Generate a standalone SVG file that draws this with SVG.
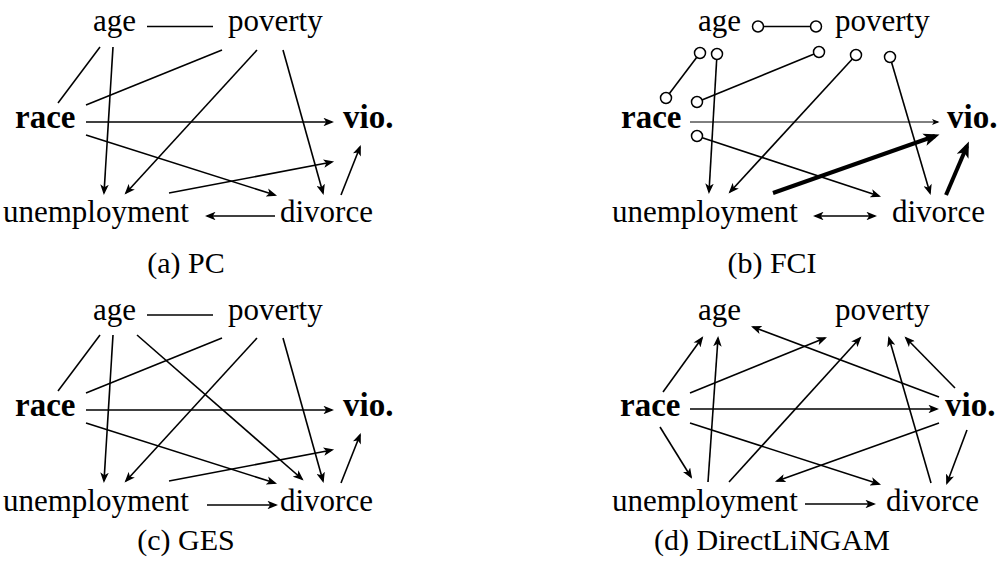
<svg xmlns="http://www.w3.org/2000/svg" width="1000" height="574" viewBox="0 0 1000 574">
<style>
.t{font-family:"Liberation Serif","DejaVu Serif",serif;font-size:31px;fill:#000}
.b{font-family:"Liberation Serif","DejaVu Serif",serif;font-size:33px;font-weight:bold;fill:#000}
.cap{font-family:"Liberation Serif","DejaVu Serif",serif;font-size:30px;fill:#000;text-anchor:middle}
.e{stroke:#000;stroke-width:1.6;fill:none}
.a{marker-end:url(#ah)}
.thin{stroke:#000;stroke-width:1;fill:none;marker-end:url(#ahs)}
.thick{stroke:#000;stroke-width:4;fill:none;marker-end:url(#ahb)}
.o{fill:#fff;stroke:#000;stroke-width:1.5}
</style>
<defs>
<marker id="ah" viewBox="0 0 10 8" refX="8" refY="4" markerWidth="11" markerHeight="8.5" markerUnits="userSpaceOnUse" orient="auto-start-reverse"><path d="M0,0 L10,4 L0,8 L2.5,4 z" fill="#000"/></marker>
<marker id="ahs" viewBox="0 0 10 8" refX="8" refY="4" markerWidth="8" markerHeight="6" markerUnits="userSpaceOnUse" orient="auto"><path d="M0,0 L10,4 L0,8 L2.5,4 z" fill="#000"/></marker>
<marker id="ahb" viewBox="0 0 10 8" refX="7" refY="4" markerWidth="16" markerHeight="13" markerUnits="userSpaceOnUse" orient="auto"><path d="M0,0 L10,4 L0,8 L2.5,4 z" fill="#000"/></marker>
</defs>

<!-- (a) PC -->
<g id="pc">
<g id="pc-age"><text class="t" x="93" y="31">age</text></g>
<g id="pc-poverty"><text class="t" x="228" y="31">poverty</text></g>
<g id="pc-race"><text class="b" x="15" y="128">race</text></g>
<g id="pc-vio"><text class="b" x="343" y="128">vio.</text></g>
<g id="pc-unemployment"><text class="t" x="3" y="222">unemployment</text></g>
<g id="pc-divorce"><text class="t" x="280" y="222">divorce</text></g>
<g id="pc-edges">
<line class="e" x1="147" y1="26.5" x2="213" y2="26.5"/>
<line class="e" x1="100" y1="47" x2="58" y2="103"/>
<line class="e a" x1="113" y1="47" x2="104" y2="193"/>
<line class="e" x1="222" y1="50" x2="86" y2="105"/>
<line class="e a" x1="257" y1="50" x2="126" y2="193"/>
<line class="e a" x1="283" y1="50" x2="323" y2="193"/>
<line class="e a" x1="86" y1="122" x2="332" y2="122"/>
<line class="e a" x1="86" y1="135" x2="275" y2="195"/>
<line class="e a" x1="169" y1="193" x2="332" y2="162"/>
<line class="e a" x1="341" y1="195" x2="360" y2="147"/>
<line class="e a" x1="275" y1="216" x2="207" y2="216"/>
</g>
<text class="cap" x="186" y="273">(a) PC</text>
</g>

<!-- (b) FCI -->
<g id="fci">
<g id="fci-age"><text class="t" x="698" y="31">age</text></g>
<g id="fci-poverty"><text class="t" x="835" y="31">poverty</text></g>
<g id="fci-race"><text class="b" x="621" y="128">race</text></g>
<g id="fci-vio"><text class="b" x="947" y="128">vio.</text></g>
<g id="fci-unemployment"><text class="t" x="612" y="222">unemployment</text></g>
<g id="fci-divorce"><text class="t" x="892" y="222">divorce</text></g>
<g id="fci-edges">
<line class="e" x1="758" y1="26.5" x2="816" y2="26.5"/>
<line class="e" x1="700" y1="53" x2="666" y2="98"/>
<line class="e a" x1="717" y1="54" x2="709" y2="192"/>
<line class="e" x1="819" y1="52" x2="697" y2="102"/>
<line class="e a" x1="856" y1="55" x2="730" y2="192"/>
<line class="e a" x1="890" y1="57" x2="930" y2="193"/>
<line class="thin" x1="690" y1="122" x2="938" y2="122"/>
<line class="e a" x1="697" y1="136" x2="879" y2="196"/>
<line class="thick" x1="773" y1="193" x2="935" y2="136"/>
<line class="thick" x1="946" y1="195" x2="967" y2="146"/>
<line class="e" style="marker-start:url(#ah);marker-end:url(#ah)" x1="815" y1="216" x2="875" y2="216"/>
<circle class="o" cx="758" cy="26.5" r="5.5"/>
<circle class="o" cx="816" cy="26.5" r="5.5"/>
<circle class="o" cx="700" cy="53" r="5.5"/>
<circle class="o" cx="666" cy="98" r="5.5"/>
<circle class="o" cx="717" cy="54" r="5.5"/>
<circle class="o" cx="819" cy="52" r="5.5"/>
<circle class="o" cx="697" cy="102" r="5.5"/>
<circle class="o" cx="856" cy="55" r="5.5"/>
<circle class="o" cx="890" cy="57" r="5.5"/>
<circle class="o" cx="697" cy="136" r="5.5"/>
</g>
<text class="cap" x="772" y="273">(b) FCI</text>
</g>

<!-- (c) GES -->
<g id="ges">
<g id="ges-age"><text class="t" x="93" y="320">age</text></g>
<g id="ges-poverty"><text class="t" x="228" y="320">poverty</text></g>
<g id="ges-race"><text class="b" x="15" y="416">race</text></g>
<g id="ges-vio"><text class="b" x="343" y="416">vio.</text></g>
<g id="ges-unemployment"><text class="t" x="3" y="511">unemployment</text></g>
<g id="ges-divorce"><text class="t" x="280" y="511">divorce</text></g>
<g id="ges-edges">
<line class="e" x1="147" y1="315" x2="213" y2="315"/>
<line class="e" x1="100" y1="335" x2="58" y2="391"/>
<line class="e a" x1="113" y1="335" x2="104" y2="481"/>
<line class="e a" x1="137" y1="335" x2="302" y2="479"/>
<line class="e" x1="222" y1="338" x2="86" y2="393"/>
<line class="e a" x1="257" y1="338" x2="126" y2="481"/>
<line class="e a" x1="283" y1="338" x2="323" y2="481"/>
<line class="e a" x1="86" y1="410" x2="332" y2="410"/>
<line class="e a" x1="86" y1="423" x2="275" y2="483"/>
<line class="e a" x1="169" y1="481" x2="332" y2="450"/>
<line class="e a" x1="341" y1="483" x2="360" y2="435"/>
<line class="e a" x1="207" y1="505" x2="276" y2="505"/>
</g>
<text class="cap" x="186" y="550">(c) GES</text>
</g>

<!-- (d) DirectLiNGAM -->
<g id="lingam">
<g id="lingam-age"><text class="t" x="698" y="320">age</text></g>
<g id="lingam-poverty"><text class="t" x="835" y="320">poverty</text></g>
<g id="lingam-race"><text class="b" x="620" y="416">race</text></g>
<g id="lingam-vio"><text class="b" x="945" y="416">vio.</text></g>
<g id="lingam-unemployment"><text class="t" x="612" y="511">unemployment</text></g>
<g id="lingam-divorce"><text class="t" x="886" y="511">divorce</text></g>
<g id="lingam-edges">
<line class="e a" x1="663" y1="392" x2="702" y2="338"/>
<line class="e a" x1="690" y1="393" x2="825" y2="338"/>
<line class="e a" x1="690" y1="409" x2="937" y2="409"/>
<line class="e a" x1="660" y1="427" x2="691" y2="477"/>
<line class="e a" x1="690" y1="423" x2="879" y2="484"/>
<line class="e a" x1="708" y1="482" x2="718" y2="338"/>
<line class="e a" x1="729" y1="482" x2="860" y2="338"/>
<line class="e a" x1="805" y1="504" x2="874" y2="504"/>
<line class="e a" x1="939" y1="397" x2="753" y2="327"/>
<line class="e a" x1="955" y1="388" x2="906" y2="338"/>
<line class="e a" x1="939" y1="423" x2="777" y2="481"/>
<line class="e a" x1="967" y1="430" x2="947" y2="483"/>
<line class="e a" x1="931" y1="483" x2="889" y2="338"/>
</g>
<text class="cap" x="772" y="550">(d) DirectLiNGAM</text>
</g>
</svg>
